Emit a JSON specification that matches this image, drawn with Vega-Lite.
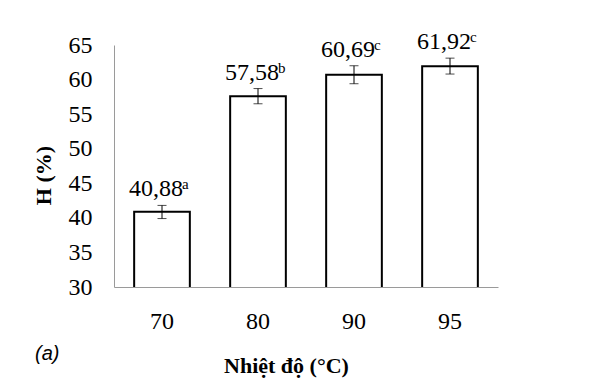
{
  "$schema": "https://vega.github.io/schema/vega-lite/v6.json",
  "autosize": "none",
  "width": 384,
  "height": 242,
  "padding": {"left": 114, "top": 45, "right": 108, "bottom": 105},
  "background": "white",
  "config": {
    "view": {"stroke": null},
    "font": "Times New Roman, Liberation Serif, serif"
  },
  "title": {
    "text": "(a)",
    "orient": "bottom",
    "anchor": "start",
    "frame": "group",
    "font": "Liberation Sans",
    "fontStyle": "italic",
    "fontWeight": "normal",
    "fontSize": 20,
    "color": "black",
    "dx": -79,
    "offset": -32
  },
  "resolve": {"axis": {"y": "independent"}},
  "data": {
    "values": [
      {"t": "70", "h": 40.88, "lo": 39.9, "hi": 41.8, "label": "40,88", "sig": "a"},
      {"t": "80", "h": 57.58, "lo": 56.5, "hi": 58.7, "label": "57,58", "sig": "b"},
      {"t": "90", "h": 60.69, "lo": 59.4, "hi": 62.0, "label": "60,69", "sig": "c"},
      {"t": "95", "h": 61.92, "lo": 60.8, "hi": 63.1, "label": "61,92", "sig": "c"}
    ]
  },
  "encoding": {
    "x": {
      "field": "t",
      "type": "nominal",
      "sort": null,
      "scale": {"paddingInner": 0.42, "paddingOuter": 0.21},
      "axis": {
        "title": "Nhiệt độ (°C)",
        "labelAngle": 0,
        "labelFont": "Times New Roman, Liberation Serif, serif",
        "labelFontSize": 24,
        "labelColor": "black",
        "labelPadding": 22,
        "ticks": false,
        "domainColor": "#9a9a9a",
        "domainWidth": 1,
        "titleFont": "Times New Roman, Liberation Serif, serif",
        "titleFontSize": 22,
        "titleFontWeight": "bold",
        "titleColor": "black",
        "titleX": 172,
        "titleY": 78,
        "titleBaseline": "middle",
        "titleAlign": "center"
      }
    }
  },
  "layer": [
    {
      "mark": {"type": "bar", "fill": "white", "stroke": "black", "strokeWidth": 2, "clip": true},
      "encoding": {
        "y": {
          "field": "h",
          "type": "quantitative",
          "scale": {"domain": [30, 65], "nice": false, "zero": false},
          "axis": {
            "title": "H (%)",
            "values": [30, 35, 40, 45, 50, 55, 60, 65],
            "labelOverlap": false,
            "grid": false,
            "ticks": false,
            "labelFont": "Times New Roman, Liberation Serif, serif",
            "labelFontSize": 24,
            "labelColor": "black",
            "labelPadding": 22,
            "domainColor": "#9a9a9a",
            "domainWidth": 1,
            "titleFont": "Times New Roman, Liberation Serif, serif",
            "titleFontSize": 22,
            "titleFontWeight": "bold",
            "titleColor": "black",
            "titleAngle": -90,
            "titleX": -71,
            "titleY": 130,
            "titleBaseline": "middle",
            "titleAlign": "center"
          }
        }
      }
    },
    {
      "mark": {"type": "rule", "color": "black", "strokeWidth": 1},
      "encoding": {
        "y": {"field": "lo", "type": "quantitative", "axis": null},
        "y2": {"field": "hi"}
      }
    },
    {
      "mark": {"type": "tick", "color": "black", "thickness": 1, "size": 9},
      "encoding": {"y": {"field": "lo", "type": "quantitative", "axis": null}}
    },
    {
      "mark": {"type": "tick", "color": "black", "thickness": 1, "size": 9},
      "encoding": {"y": {"field": "hi", "type": "quantitative", "axis": null}}
    },
    {
      "mark": {"type": "text", "font": "Times New Roman, Liberation Serif, serif", "fontSize": 24, "color": "black", "baseline": "alphabetic", "align": "center", "dx": -6, "dy": -9},
      "encoding": {
        "y": {"field": "hi", "type": "quantitative", "axis": null},
        "text": {"field": "label"}
      }
    },
    {
      "mark": {"type": "text", "font": "Times New Roman, Liberation Serif, serif", "fontSize": 15, "color": "black", "baseline": "alphabetic", "align": "left", "dx": 20, "dy": -16},
      "encoding": {
        "y": {"field": "hi", "type": "quantitative", "axis": null},
        "text": {"field": "sig"}
      }
    }
  ]
}
